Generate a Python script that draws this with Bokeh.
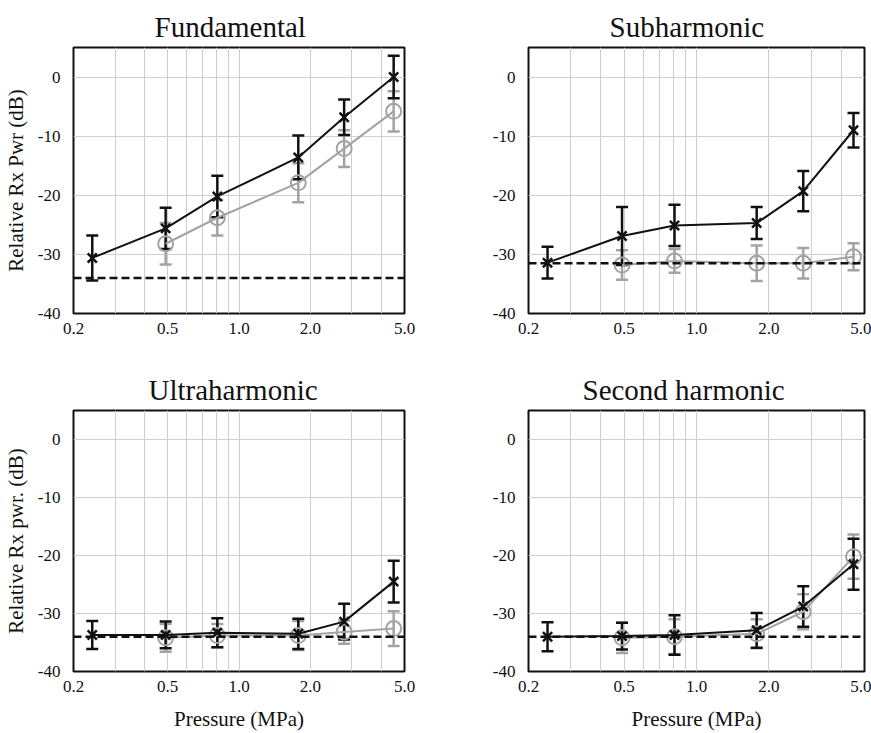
from bokeh.plotting import figure
from bokeh.layouts import column, row
from bokeh.models import (ColumnDataSource, Whisker, TeeHead, Span, FixedTicker,
                          PrintfTickFormatter, Range1d)
from bokeh.embed import file_html
from bokeh.resources import INLINE

# ---------------- data ----------------
titles = ["Fundamental", "Subharmonic", "Ultraharmonic", "Second harmonic"]
pressure = [0.24, 0.49, 0.81, 1.78, 2.78, 4.5]
pressure_gray = [0.49, 0.81, 1.78, 2.78, 4.5]

fund_black = [-30.6, -25.6, -20.2, -13.6, -6.8, 0.0]
fund_black_err = [3.8, 3.5, 3.5, 3.7, 3.0, 3.6]
fund_gray = [-28.2, -23.8, -17.9, -12.1, -5.8]
fund_gray_err = [3.5, 3.0, 3.3, 3.1, 3.4]

sub_black = [-31.4, -26.9, -25.1, -24.7, -19.3, -9.0]
sub_black_err = [2.7, 4.9, 3.5, 2.7, 3.4, 2.9]
sub_gray = [-31.8, -31.1, -31.5, -31.5, -30.4]
sub_gray_err = [2.5, 2.0, 3.0, 2.6, 2.3]

ultra_black = [-33.7, -33.7, -33.3, -33.5, -31.4, -24.5]
ultra_black_err = [2.4, 2.3, 2.5, 2.6, 3.1, 3.6]
ultra_gray = [-34.2, -33.8, -33.8, -33.2, -32.6]
ultra_gray_err = [2.4, 2.0, 2.5, 2.0, 3.0]

second_black = [-34.0, -33.9, -33.7, -32.9, -28.8, -21.5]
second_black_err = [2.5, 2.3, 3.4, 3.0, 3.5, 4.4]
second_gray = [-34.2, -34.0, -33.5, -29.7, -20.2]
second_gray_err = [2.6, 3.0, 2.5, 3.0, 3.8]

noise_floor = [-34.0, -31.5, -34.0, -34.0]
y_labels = ["Relative Rx Pwr (dB)", "", "Relative Rx pwr. (dB)", ""]
x_labels = ["", "", "Pressure (MPa)", "Pressure (MPa)"]
x_ticks = [0.2, 0.5, 1.0, 2.0, 5.0]
x_grid_minor = [0.3, 0.4, 0.6, 0.7, 0.8, 0.9, 3.0, 4.0]
y_ticks = [-40, -30, -20, -10, 0]

blacks = [fund_black, sub_black, ultra_black, second_black]
black_errs = [fund_black_err, sub_black_err, ultra_black_err, second_black_err]
grays = [fund_gray, sub_gray, ultra_gray, second_gray]
gray_errs = [fund_gray_err, sub_gray_err, ultra_gray_err, second_gray_err]

# ---------------- layout ----------------
# (width, height, border_left, border_right, border_top, border_bottom, title_offset)
geom = [
    (424, 340, 70, 20, 47, 27, 81),
    (447, 340, 104, 7, 47, 27, 81),
    (424, 393, 70, 20, 70, 60, 75),
    (447, 393, 104, 7, 70, 60, 54),
]

FONT = "Liberation Serif"
BLACK = "#111111"
GRAY = "#a3a3a3"


def add_series(p, xs, ys, errs, color, marker, lw, size):
    src = ColumnDataSource(dict(
        x=xs, y=ys,
        lo=[v - e for v, e in zip(ys, errs)],
        hi=[v + e for v, e in zip(ys, errs)],
    ))
    p.line("x", "y", source=src, line_color=color, line_width=lw)
    w = Whisker(source=src, base="x", lower="lo", upper="hi",
                line_color=color, line_width=lw + 0.5,
                upper_head=TeeHead(size=12, line_color=color, line_width=lw + 0.5),
                lower_head=TeeHead(size=12, line_color=color, line_width=lw + 0.5))
    p.add_layout(w)
    if marker == "x":
        p.scatter("x", "y", source=src, marker="x", size=size,
                  line_color=color, line_width=lw + 0.5)
    else:
        p.scatter("x", "y", source=src, marker="circle", size=size,
                  line_color=color, fill_color=None, line_width=lw)


def make_panel(i):
    w, h, bl, br, bt, bb, toff = geom[i]
    p = figure(width=w, height=h, x_axis_type="log",
               x_range=Range1d(0.2, 5.0), y_range=Range1d(-40, 5),
               output_backend="svg", toolbar_location=None,
               min_border_left=bl, min_border_right=br,
               min_border_top=bt, min_border_bottom=bb)
    p.title.text = titles[i]
    p.title.text_font = FONT
    p.title.text_font_size = "29px"
    p.title.text_font_style = "normal"
    p.title.text_color = BLACK
    p.title.align = "left"
    p.title.offset = toff
    p.title.standoff = 10

    p.outline_line_color = BLACK
    p.outline_line_width = 2
    p.outline_line_alpha = 1.0
    p.background_fill_color = "white"
    p.border_fill_color = "white"

    p.xaxis.ticker = FixedTicker(ticks=x_ticks, minor_ticks=x_grid_minor)
    p.xaxis.formatter = PrintfTickFormatter(format="%.1f")
    p.yaxis.ticker = FixedTicker(ticks=y_ticks)
    p.yaxis.formatter = PrintfTickFormatter(format="%d")
    for ax in (p.xaxis[0], p.yaxis[0]):
        ax.axis_line_color = None
        ax.major_tick_line_color = None
        ax.minor_tick_line_color = None
        ax.major_label_text_font = FONT
        ax.major_label_text_font_size = "17px"
        ax.major_label_text_color = BLACK
        ax.axis_label_text_font = FONT
        ax.axis_label_text_font_size = "21px"
        ax.axis_label_text_font_style = "normal"
        ax.axis_label_text_color = BLACK
    p.xaxis.major_label_standoff = 3
    p.yaxis.major_label_standoff = 7
    p.xaxis.axis_label_standoff = 12
    p.yaxis.axis_label_standoff = 7
    if y_labels[i]:
        p.yaxis.axis_label = y_labels[i]
    if x_labels[i]:
        p.xaxis.axis_label = x_labels[i]

    p.xgrid.grid_line_color = "#cfcfcf"
    p.xgrid.minor_grid_line_color = "#cfcfcf"
    p.xgrid.grid_line_width = 1
    p.xgrid.minor_grid_line_width = 1
    p.ygrid.grid_line_color = "#cfcfcf"
    p.ygrid.grid_line_width = 1

    p.add_layout(Span(location=noise_floor[i], dimension="width",
                      line_color=BLACK, line_width=2.5, line_dash="8 4"))

    add_series(p, pressure_gray, grays[i], gray_errs[i], GRAY, "o", 2, 15)
    add_series(p, pressure, blacks[i], black_errs[i], BLACK, "x", 2, 13)
    return p


panels = [make_panel(i) for i in range(4)]
layout = column(row(panels[0], panels[1]), row(panels[2], panels[3]))

open("out.html", "w").write(file_html(layout, INLINE))
